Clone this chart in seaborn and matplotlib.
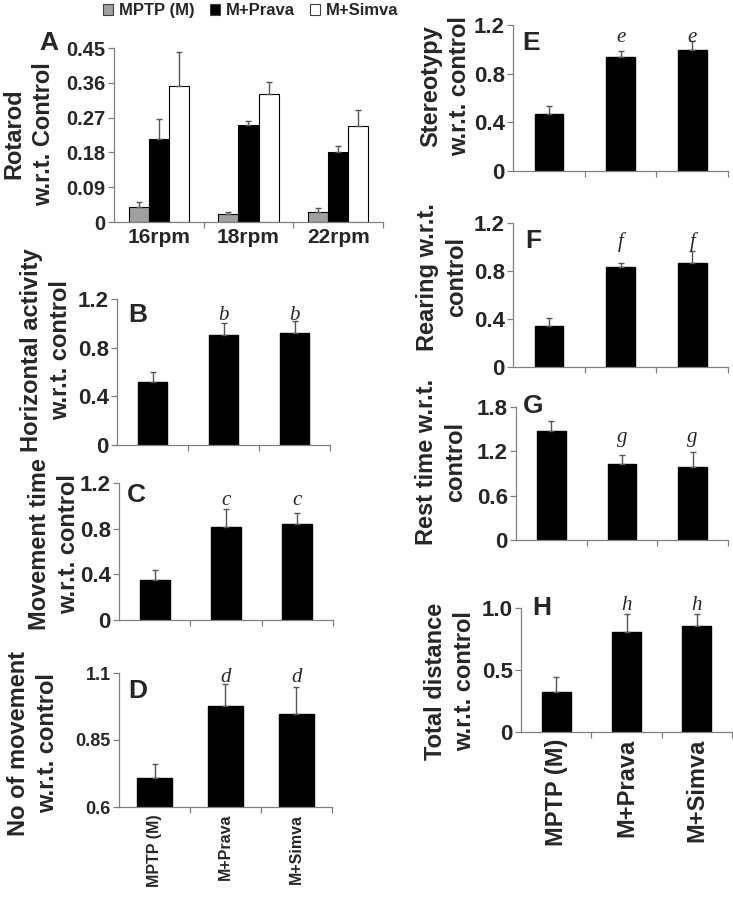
import numpy as np
import pandas as pd
import matplotlib
matplotlib.use("Agg")
import matplotlib.pyplot as plt
import seaborn as sns
from matplotlib.patches import Patch

groups = ["MPTP (M)", "M+Prava", "M+Simva"]
speeds = ["16rpm", "18rpm", "22rpm"]

# A - rotarod, values per speed
rotarod_mptp = [0.040, 0.021, 0.027]
rotarod_prava = [0.215, 0.252, 0.180]
rotarod_simva = [0.353, 0.332, 0.249]
rotarod_mptp_err = [0.011, 0.006, 0.010]
rotarod_prava_err = [0.051, 0.010, 0.017]
rotarod_simva_err = [0.087, 0.031, 0.041]

# B..H - one value per group
horiz = [0.516, 0.901, 0.920]
horiz_err = [0.080, 0.102, 0.102]
movetime = [0.350, 0.818, 0.839]
movetime_err = [0.086, 0.152, 0.101]
nomove = [0.709, 0.978, 0.948]
nomove_err = [0.051, 0.082, 0.100]
stereo = [0.467, 0.934, 0.995]
stereo_err = [0.066, 0.055, 0.074]
rearing = [0.340, 0.830, 0.870]
rearing_err = [0.070, 0.040, 0.100]
rest = [1.477, 1.027, 0.986]
rest_err = [0.131, 0.117, 0.208]
distance = [0.324, 0.808, 0.851]
distance_err = [0.116, 0.146, 0.103]

W, H = 733, 900

sns.set_style("ticks")
plt.rcParams["font.family"] = ["Liberation Sans", "DejaVu Sans"]
plt.rcParams["font.weight"] = "bold"
plt.rcParams["axes.labelweight"] = "bold"

fig = plt.figure(figsize=(W / 100, H / 100), dpi=100)


def px_axes(left, top, right, bottom):
    return fig.add_axes([left / W, 1 - bottom / H, (right - left) / W, (bottom - top) / H])


def style(ax, ylim, yticks, yticklabels, ytsize=16):
    sns.despine(ax=ax)
    for s in ["left", "bottom"]:
        ax.spines[s].set_color("#808080")
        ax.spines[s].set_linewidth(0.9)
    ax.set_xlim(-0.5, 2.5)
    ax.set_ylim(*ylim)
    ax.set_yticks(yticks)
    ax.set_yticklabels(yticklabels, fontweight="bold")
    ax.set_xticks([0.5, 1.5, 2.5])
    ax.set_xticklabels([])
    ax.tick_params(axis="both", which="major", direction="out", length=4,
                   width=0.9, color="#808080", labelsize=ytsize, pad=2)
    ax.set_xlabel("")


def bar_panel(ax, vals, errs, width=0.42):
    df = pd.DataFrame({"group": groups, "value": vals})
    sns.barplot(data=df, x="group", y="value", color="black", width=width,
                edgecolor="black", saturation=1, errorbar=None, ax=ax)
    bars = ax.containers[0]
    xs = [b.get_x() + b.get_width() / 2 for b in bars]
    ax.errorbar(xs, vals, yerr=[np.zeros(len(vals)), errs], fmt="none",
                ecolor="#555555", elinewidth=1, capsize=2.5, capthick=1)


def ylab(ax, text, xpx, ypx, left, top, right, bottom):
    ax.set_ylabel(text, fontsize=17, fontweight="bold", va="center", linespacing=1.35)
    ax.yaxis.set_label_coords((xpx - left) / (right - left), (bottom - ypx) / (bottom - top))


def sig(ax, letter, y):
    for i in [1, 2]:
        ax.text(i, y, letter, ha="center", va="baseline", fontsize=15,
                family=["Liberation Serif", "DejaVu Serif"], style="italic",
                fontweight="normal", clip_on=False)


def panel_letter(letter, xpx, basepx):
    fig.text(xpx / W, 1 - basepx / H, letter, fontsize=19, fontweight="bold", va="baseline")


def group_labels(ax, size):
    ax.set_xticks([0, 1, 2], minor=True)
    ax.set_xticklabels(groups, minor=True, rotation=90, fontsize=size, fontweight="bold")
    ax.tick_params(axis="x", which="minor", length=0, pad=5)


# ---------- A ----------
posA = (114, 48, 383, 222)
axA = px_axes(*posA)
rot = pd.DataFrame({
    "speed": speeds * 3,
    "group": [groups[0]] * 3 + [groups[1]] * 3 + [groups[2]] * 3,
    "value": rotarod_mptp + rotarod_prava + rotarod_simva,
})
sns.barplot(data=rot, x="speed", y="value", hue="group", hue_order=groups,
            palette=["#a0a0a0", "black", "white"], width=0.67, gap=0,
            edgecolor="black", linewidth=0.8, saturation=1, errorbar=None,
            legend=False, ax=axA)
for cont, vals, errs in zip(axA.containers,
                            [rotarod_mptp, rotarod_prava, rotarod_simva],
                            [rotarod_mptp_err, rotarod_prava_err, rotarod_simva_err]):
    xs = [b.get_x() + b.get_width() / 2 for b in cont]
    axA.errorbar(xs, vals, yerr=[np.zeros(3), errs], fmt="none",
                 ecolor="#555555", elinewidth=1, capsize=2.5, capthick=1)
style(axA, (0, 0.45), [0, 0.09, 0.18, 0.27, 0.36, 0.45],
      ["0", "0.09", "0.18", "0.27", "0.36", "0.45"], ytsize=14.5)
axA.set_xticks([0, 1, 2], minor=True)
axA.set_xticklabels(speeds, minor=True, fontsize=15, fontweight="bold")
axA.tick_params(axis="x", which="minor", length=0, pad=4)
ylab(axA, "Rotarod\nw.r.t. Control", 29, 134, *posA)
panel_letter("A", 39, 50)

handles = [Patch(facecolor=c, edgecolor="#404040", linewidth=0.8)
           for c in ["#a0a0a0", "black", "white"]]
fig.legend(handles, groups, loc="upper left", bbox_to_anchor=(100 / W, 1.0),
           ncol=3, frameon=False, prop={"size": 12, "weight": "bold"},
           handlelength=0.6, handleheight=0.6,
           handletextpad=0.35, columnspacing=0.9, borderaxespad=0.1, borderpad=0.1)

# ---------- B ----------
posB = (117, 299, 330, 445)
axB = px_axes(*posB)
bar_panel(axB, horiz, horiz_err, width=0.41)
style(axB, (0, 1.2), [0, 0.4, 0.8, 1.2], ["0", "0.4", "0.8", "1.2"])
ylab(axB, "Horizontal activity\nw.r.t. control", 46, 350, *posB)
sig(axB, "b", 1.027)
panel_letter("B", 128, 322)

# ---------- C ----------
posC = (119, 483, 333, 620)
axC = px_axes(*posC)
bar_panel(axC, movetime, movetime_err, width=0.42)
style(axC, (0, 1.2), [0, 0.4, 0.8, 1.2], ["0", "0.4", "0.8", "1.2"])
ylab(axC, "Movement time\nw.r.t. control", 54, 544, *posC)
sig(axC, "c", 1.007)
panel_letter("C", 127, 502)

# ---------- D ----------
posD = (119, 673, 332, 807)
axD = px_axes(*posD)
bar_panel(axD, nomove, nomove_err, width=0.5)
style(axD, (0.6, 1.1), [0.6, 0.85, 1.1], ["0.6", "0.85", "1.1"], ytsize=13)
group_labels(axD, 11.5)
ylab(axD, "No of movement\nw.r.t. control", 33, 743, *posD)
sig(axD, "d", 1.065)
panel_letter("D", 128, 698)

# ---------- E ----------
posE = (513, 25, 728, 171)
axE = px_axes(*posE)
bar_panel(axE, stereo, stereo_err, width=0.40)
style(axE, (0, 1.2), [0, 0.4, 0.8, 1.2], ["0", "0.4", "0.8", "1.2"])
ylab(axE, "Stereotypy\nw.r.t. control", 445, 86, *posE)
sig(axE, "e", 1.06)
panel_letter("E", 522, 50)

# ---------- F ----------
posF = (513, 223, 728, 367)
axF = px_axes(*posF)
bar_panel(axF, rearing, rearing_err, width=0.40)
style(axF, (0, 1.2), [0, 0.4, 0.8, 1.2], ["0", "0.4", "0.8", "1.2"])
ylab(axF, "Rearing w.r.t.\ncontrol", 442, 277, *posF)
sig(axF, "f", 1.0)
panel_letter("F", 525, 248)

# ---------- G ----------
posG = (516, 407, 728, 540)
axG = px_axes(*posG)
bar_panel(axG, rest, rest_err, width=0.41)
style(axG, (0, 1.8), [0, 0.6, 1.2, 1.8], ["0", "0.6", "1.2", "1.8"])
ylab(axG, "Rest time w.r.t.\ncontrol", 441, 462, *posG)
sig(axG, "g", 1.33)
panel_letter("G", 523, 413)

# ---------- H ----------
posH = (521, 608, 732, 732)
axH = px_axes(*posH)
bar_panel(axH, distance, distance_err, width=0.41)
style(axH, (0, 1.0), [0, 0.5, 1.0], ["0", "0.5", "1.0"])
group_labels(axH, 17)
ylab(axH, "Total distance\nw.r.t. control", 450, 681, *posH)
sig(axH, "h", 0.98)
panel_letter("H", 532, 615)

fig.savefig("out.png", dpi=100, facecolor="white")
